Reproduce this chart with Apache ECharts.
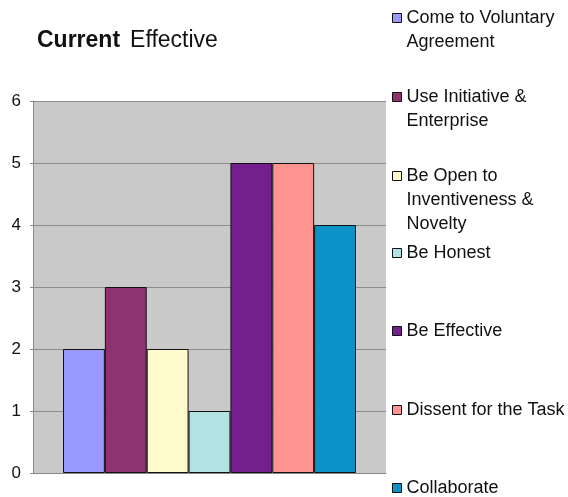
<!DOCTYPE html>
<html><head><meta charset="utf-8">
<script src="https://cdn.jsdelivr.net/npm/echarts@6/dist/echarts.min.js"></script>
<style>html,body{margin:0;padding:0;background:#fff;}#c{width:568px;height:497px;}</style>
</head><body><div id="c"></div>
<script>
var seriesNames = ['Come to Voluntary Agreement','Use Initiative & Enterprise','Be Open to Inventiveness & Novelty','Be Honest','Be Effective','Dissent for the Task','Collaborate'];
var legendLines = [['Come to Voluntary','Agreement'],['Use Initiative &','Enterprise'],['Be Open to','Inventiveness &','Novelty'],['Be Honest'],['Be Effective'],['Dissent for the Task'],['Collaborate']];
var values = [2,3,2,1,5,5,4];
var colors = ['#9999ff','#8f3370','#fffacc','#b3e2e2','#751f8e','#ff9490','#0b93c8'];
var yTicks = [0,1,2,3,4,5,6];
var legendCenters = [18,97,176,253,331,410,488];
var LH = 24;

var chart = echarts.init(document.getElementById('c'), null, {renderer:'canvas'});
var legends = seriesNames.map(function(n,i){
  var k = legendLines[i].length;
  var pad = new Array(k).join('\n');
  return {
    data:[n], orient:'vertical', left:392, top: legendCenters[i] - (2*k-1)*LH/2,
    padding:0, itemWidth:9, itemHeight:9, selectedMode:false,
    icon:'rect',
    itemStyle:{borderColor:'#111',borderWidth:1},
    textStyle:{fontFamily:'Liberation Sans',fontSize:18,color:'#111',lineHeight:LH},
    formatter:function(){ return pad + legendLines[i].join('\n'); }
  };
});
chart.setOption({
  animation:false,
  backgroundColor:'#fff',
  title:{text:'{a|Current}  {b|Effective}', left:37, top:29, padding:0,
    textStyle:{rich:{a:{fontFamily:'Liberation Sans',fontSize:23,fontWeight:'bold',color:'#111'},b:{fontFamily:'Liberation Sans',fontSize:23,fontWeight:'normal',color:'#111'}}}},
  legend:legends,
  grid:{left:33,top:101,right:182,bottom:24,show:true,backgroundColor:'#c9c9c9',borderWidth:0},
  xAxis:{type:'category',data:[''],axisTick:{show:false},axisLabel:{show:false},
    axisLine:{lineStyle:{color:'#888',width:1}}},
  yAxis:{type:'value',min:yTicks[0],max:yTicks[yTicks.length-1],interval:1,
    axisLine:{show:true,lineStyle:{color:'#888'}},
    axisTick:{show:true,length:3,lineStyle:{color:'#888'}},
    axisLabel:{margin:12,fontFamily:'Liberation Sans',fontSize:17,color:'#111'},
    splitLine:{lineStyle:{color:'#8c8c8c',width:1}}},
  series:seriesNames.map(function(n,i){
    return {name:n,type:'bar',data:[values[i]],barGap:'0%',barCategoryGap:'17%',
      itemStyle:{color:colors[i],borderColor:'#111',borderWidth:1}};
  })
});
</script></body></html>
